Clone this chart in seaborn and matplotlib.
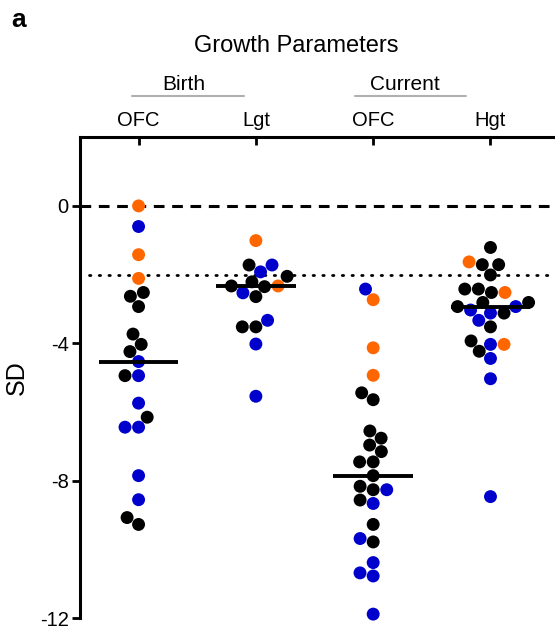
import numpy as np
import pandas as pd
import matplotlib
matplotlib.use("Agg")
import matplotlib.pyplot as plt
import seaborn as sns

# columns on the (top) x axis
groups = ["OFC_b", "Lgt_b", "OFC_c", "Hgt_c"]
tick_labels = ["OFC", "Lgt", "OFC", "Hgt"]

# SD values per column, split by dot colour
ofc_birth_black = [-2.52, -2.63, -2.93, -3.73, -4.03, -4.24, -4.94, -6.15, -9.07, -9.27]
ofc_birth_blue = [-0.6, -4.53, -4.94, -5.74, -6.44, -6.44, -7.85, -8.55]
ofc_birth_orange = [0.0, -1.42, -2.11]

lgt_birth_black = [-1.72, -2.05, -2.21, -2.33, -2.35, -2.64, -3.52, -3.52]
lgt_birth_blue = [-1.72, -1.92, -2.53, -3.33, -4.02, -5.54]
lgt_birth_orange = [-1.01, -2.33]

ofc_curr_black = [-5.44, -5.64, -6.55, -6.76, -6.96, -7.15, -7.45, -7.45, -7.85,
                  -8.16, -8.26, -8.56, -9.27, -9.78]
ofc_curr_blue = [-2.42, -8.26, -8.66, -9.68, -10.38, -10.68, -10.77, -11.88]
ofc_curr_orange = [-2.73, -4.13, -4.93]

hgt_curr_black = [-1.21, -1.71, -1.71, -2.01, -2.42, -2.42, -2.52, -2.81, -2.81,
                  -2.93, -3.12, -3.52, -3.93, -4.23]
hgt_curr_blue = [-2.93, -3.03, -3.12, -3.33, -4.03, -4.44, -5.03, -8.46]
hgt_curr_orange = [-1.63, -2.52, -4.03]

data = {
    "OFC_b": {"black": ofc_birth_black, "blue": ofc_birth_blue, "orange": ofc_birth_orange},
    "Lgt_b": {"black": lgt_birth_black, "blue": lgt_birth_blue, "orange": lgt_birth_orange},
    "OFC_c": {"black": ofc_curr_black, "blue": ofc_curr_blue, "orange": ofc_curr_orange},
    "Hgt_c": {"black": hgt_curr_black, "blue": hgt_curr_blue, "orange": hgt_curr_orange},
}

rows = []
for g, d in data.items():
    for kind, vals in d.items():
        for v in vals:
            rows.append({"group": g, "kind": kind, "sd": v})
df = pd.DataFrame(rows)

palette = {"black": "#000000", "blue": "#0000cc", "orange": "#ff6600"}

sns.set_style("white")
plt.rcParams["font.family"] = ["Liberation Sans", "DejaVu Sans"]
plt.rcParams["text.color"] = "black"
plt.rcParams["axes.labelcolor"] = "black"
plt.rcParams["xtick.color"] = "black"
plt.rcParams["ytick.color"] = "black"

fig = plt.figure(figsize=(5.55, 6.44), dpi=100)
ax = fig.add_axes([0.144, 0.040, 0.856, 0.747])

sns.swarmplot(data=df, x="group", y="sd", hue="kind", order=groups,
              hue_order=["black", "blue", "orange"], palette=palette,
              size=9.3, linewidth=0, legend=False, ax=ax, clip_on=False)

# medians
for i, g in enumerate(groups):
    med = np.median(df.loc[df["group"] == g, "sd"])
    ax.hlines(med, i - 0.34, i + 0.34, color="black", lw=2.8, zorder=5)

# reference lines
ax.axhline(0, color="black", lw=2.2, ls=(0, (3.5, 2.5)), zorder=0)
ax.axhline(-2, xmin=0.02, color="black", lw=2.0, ls=(0, (0.5, 3.0)),
           dash_capstyle="round", zorder=0)

ax.set_xlim(-0.5, 3.55)
ax.set_ylim(-12, 2)
ax.set_yticks([0, -4, -8, -12])
ax.set_yticklabels(["0", "-4", "-8", "-12"], fontsize=14.5)
ax.set_ylabel("SD", fontsize=18, labelpad=8)
ax.set_xlabel("")

ax.xaxis.tick_top()
ax.set_xticks(range(len(groups)))
ax.set_xticklabels(tick_labels, fontsize=14.5)
ax.tick_params(axis="x", direction="in", length=6, width=2, pad=5, top=True, bottom=False)
ax.tick_params(axis="y", direction="out", length=6, width=2, pad=2, left=True)

for side in ["bottom", "right"]:
    ax.spines[side].set_visible(False)
for side in ["top", "left"]:
    ax.spines[side].set_linewidth(2.2)
    ax.spines[side].set_color("black")

# group headers
fig.text(296 / 555, 1 - 46 / 644, "Growth Parameters", ha="center", va="center", fontsize=17)
fig.text(184 / 555, 1 - 84 / 644, "Birth", ha="center", va="center", fontsize=15)
fig.text(405 / 555, 1 - 84 / 644, "Current", ha="center", va="center", fontsize=15)
fig.add_artist(plt.Line2D([132 / 555, 244 / 555], [1 - 96 / 644] * 2, color="#b0b0b0", lw=1.5))
fig.add_artist(plt.Line2D([355 / 555, 466 / 555], [1 - 96 / 644] * 2, color="#b0b0b0", lw=1.5))
fig.text(19 / 555, 1 - 20 / 644, "a", ha="center", va="center", fontsize=19, fontweight="bold")

fig.savefig("out.png", dpi=100)
